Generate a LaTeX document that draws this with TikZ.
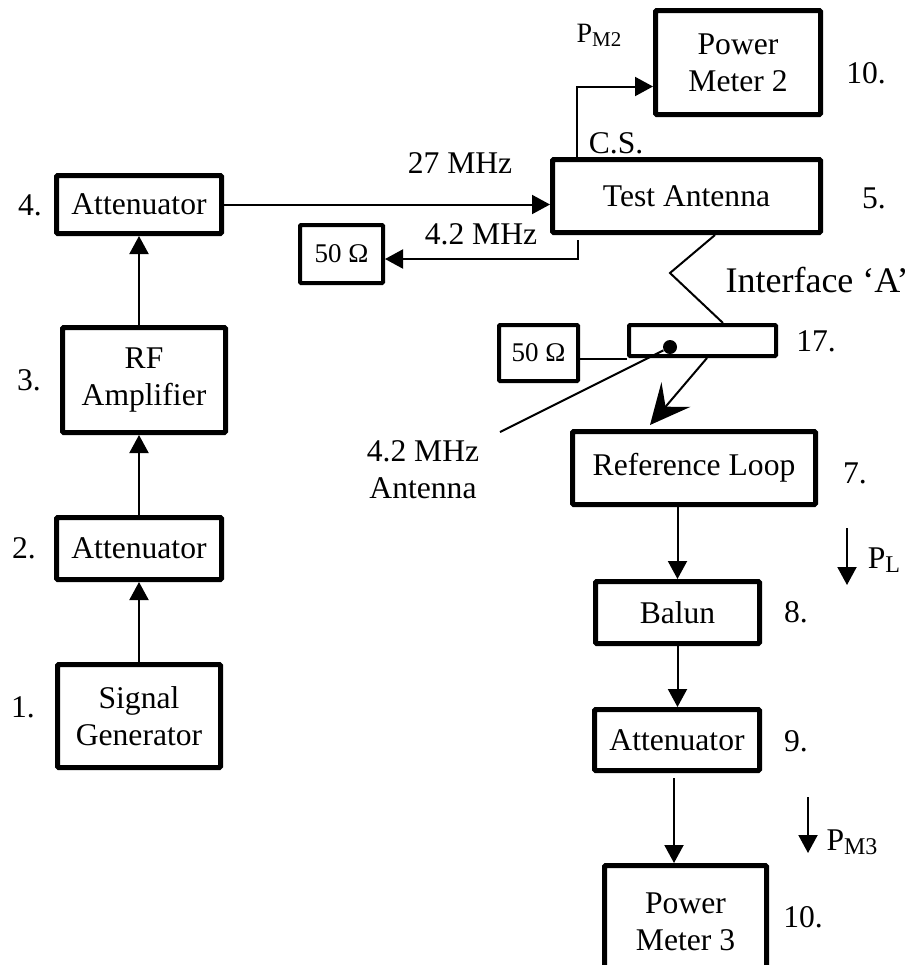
\documentclass[tikz,border=0pt]{standalone}
\usepackage{fontspec}
\setmainfont{Liberation Serif}
\usetikzlibrary{arrows.meta}
\newcommand{\mfont}{\fontsize{15.8}{18.5}\selectfont}
\newcommand{\ofont}{\fontsize{13.5}{15}\selectfont}
\newcommand{\ifont}{\fontsize{18}{20}\selectfont}
\newcommand{\subfont}{\fontsize{12}{12}\selectfont}
\newcommand{\subfontsm}{\fontsize{10.5}{11}\selectfont}
\begin{document}
\begin{tikzpicture}[x=0.5pt,y=-0.5pt,
  box/.style={draw, line width=2.5pt, inner sep=0pt, align=center, rounded corners=0.6pt, font=\mfont},
  sbox/.style={draw, line width=2pt, inner sep=0pt, align=center, rounded corners=0.5pt, font=\ofont},
  conn/.style={line width=1pt},
  arr/.style={line width=1pt, -{Triangle[length=9pt,width=9.5pt]}},
  lbl/.style={inner sep=0pt, align=center, font=\mfont}]
\useasboundingbox (0,0) rectangle (914,965);
\clip (0,0) rectangle (914,965);

% left column
\node[box, minimum width=82.5pt, minimum height=29pt] (att4) at (139,204.5) {Attenuator};
\node[box, minimum width=81.5pt, minimum height=52.5pt] (rf) at (144,380) {RF\\Amplifier};
\node[box, minimum width=82.5pt, minimum height=31pt] (att2) at (139,548.5) {Attenuator};
\node[box, minimum width=81.5pt, minimum height=51.5pt] (sg) at (139,716) {Signal\\Generator};

% right side
\node[box, minimum width=134pt, minimum height=36.5pt] (ta) at (686.5,196) {Test Antenna};
\node[box, minimum width=82.5pt, minimum height=52pt] (pm2) at (738,62.5) {Power\\Meter 2};
\node[sbox, minimum width=41.5pt, minimum height=29pt] (r50a) at (341.5,254) {50 Ω};
\node[sbox, minimum width=39.5pt, minimum height=28pt] (r50b) at (538.5,353) {50 Ω};
\node[draw, line width=2pt, inner sep=0pt, rounded corners=0.5pt, minimum width=73.5pt, minimum height=15.5pt] (b17) at (702.5,340.5) {};
\node[circle, fill, inner sep=0pt, minimum size=7pt] (dot) at (670,347) {};
\node[box, minimum width=121.5pt, minimum height=36.5pt] (rl) at (694,468) {Reference Loop};
\node[box, minimum width=82pt, minimum height=31pt] (balun) at (677.5,612.5) {Balun};
\node[box, minimum width=82.5pt, minimum height=30.5pt] (att9) at (677,740) {Attenuator};
\node[box, minimum width=81pt, minimum height=56pt] (pm3) at (685.5,921.5) {Power\\Meter 3};

% number labels
\node[lbl] (n4) at (30,205) {4.};
\node[lbl] (n3) at (29,380) {3.};
\node[lbl] (n2) at (24,548) {2.};
\node[lbl] (n1) at (23,707) {1.};
\node[lbl] (n10a) at (866,73) {10.};
\node[lbl] (n5) at (874,198) {5.};
\node[lbl] (n17) at (816,341) {17.};
\node[lbl] (n7) at (855,473) {7.};
\node[lbl] (n8) at (796,612) {8.};
\node[lbl] (n9) at (796,741) {9.};
\node[lbl] (n10b) at (803,917) {10.};

% text labels
\node[lbl] (t27) at (460,163) {27 MHz};
\node[lbl] (t42) at (481,234) {4.2 MHz};
\node[lbl] (tcs) at (616,143) {C.S.};
\node[lbl, font=\fontsize{14}{16}\selectfont] (tpm2) at (599,35) {P\raisebox{-0.3ex}{\subfontsm M2}};
\node[lbl, font=\ifont] (tif) at (817,280) {Interface ‘A’};
\node[lbl] (tant) at (423,470) {4.2 MHz\\Antenna};
\node[lbl] (tpl) at (884,560) {P\raisebox{-0.3ex}{\subfont L}};
\node[lbl] (tpm3) at (852,842) {P\raisebox{-0.3ex}{\subfont M3}};

% coordinates
\coordinate (csx) at (577,0);
\coordinate (c42) at (578,240);
\coordinate (ifa) at (715,0);
\coordinate (ifz) at (670,273);
\coordinate (ifb) at (723,0);
\coordinate (antend) at (500,432);
\coordinate (kx) at (707,0);
\coordinate (ktip) at (650,425);
\coordinate (pl1) at (847,528);
\coordinate (pl2) at (847,585);
\coordinate (pm31) at (808,797);
\coordinate (pm32) at (808,853);
\coordinate (a9out) at (674,778);

% left chain
\draw[arr] (sg.north) -- (att2.south);
\draw[arr] (att2.north) -- (att2.north |- rf.south);
\draw[arr] (att4.south |- rf.north) -- (att4.south);
\draw[arr] (att4.east) -- (att4.east -| ta.west);

% 4.2 MHz to load
\draw[arr] (c42) |- ([yshift=-2.5pt]r50a.east);
% C.S. to power meter 2
\draw[arr] (ta.north -| csx) |- ([yshift=-12pt]pm2.west);
% interface
\draw[conn] (ta.south -| ifa) -- (ifz) -- (b17.north -| ifb);
% 50 ohm to 17
\draw[conn] ([yshift=-3pt]r50b.east) -- ([yshift=-3pt]r50b.east -| b17.west);
% antenna pointer
\draw[conn] (dot) -- (antend);
% kite arrow
\draw[line width=1pt, -{Stealth[length=20pt,width=19pt,inset=8pt]}] (b17.south -| kx) -- (ktip);
% right chain
\draw[arr] (rl.south -| balun.north) -- (balun.north);
\draw[arr] (balun.south) -- (balun.south |- att9.north);
\draw[arr] (a9out) -- (a9out |- pm3.north);
% power arrows
\draw[arr] (pl1) -- (pl2);
\draw[arr] (pm31) -- (pm32);
\end{tikzpicture}
\end{document}
